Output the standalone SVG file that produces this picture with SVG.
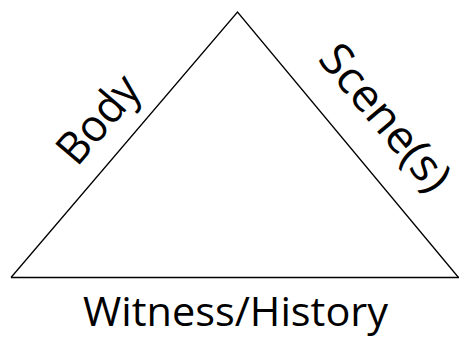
<svg xmlns="http://www.w3.org/2000/svg" width="459" height="337" viewBox="0 0 459 337">
<style>
.lbl{font-family:"Open Sans","Noto Sans",sans-serif;font-size:41px;fill:#000}
.rot{text-anchor:middle;font-size:45px}
.edge{stroke:#000;stroke-width:1.3;fill:none}
</style>
<rect width="459" height="337" fill="#fff"/>
<g id="connectors">
<path class="edge" d="M11,277.5 L237.5,12 L458.5,277.5"/>
<path class="edge" d="M11,277.5 H459" stroke-width="1.8"/>
</g>
<g id="body"><text class="lbl rot" transform="translate(100,121) rotate(-49.5)" x="0" y="13" textLength="101" lengthAdjust="spacingAndGlyphs">Body</text></g>
<g id="scenes"><text class="lbl rot" transform="translate(383.5,119) rotate(50)" x="0" y="13" textLength="177" lengthAdjust="spacingAndGlyphs">Scene(s)</text></g>
<g id="witness"><text class="lbl" x="83" y="326" textLength="305" lengthAdjust="spacingAndGlyphs">Witness/History</text></g>
</svg>
